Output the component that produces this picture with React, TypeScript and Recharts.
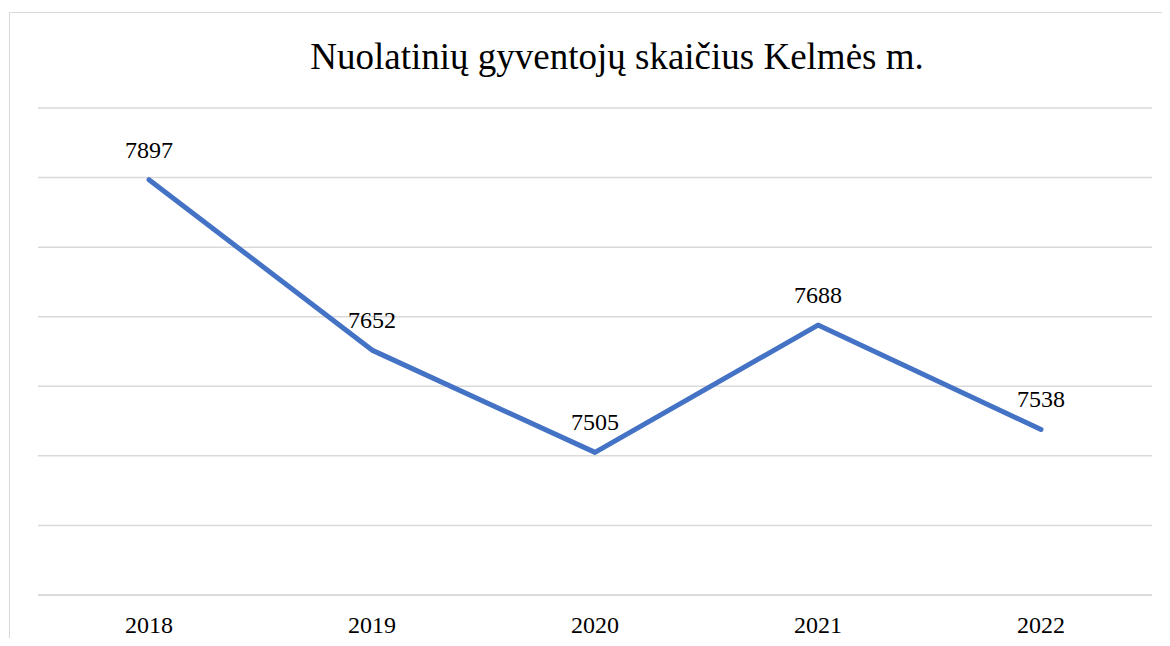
import { LineChart, Line, XAxis, YAxis, CartesianGrid, LabelList } from 'recharts';

const years = ['2018', '2019', '2020', '2021', '2022'];
const residents = [7897, 7652, 7505, 7688, 7538];
const gridTicks = [7300, 7400, 7500, 7600, 7700, 7800, 7900, 8000];

const data = years.map((year, i) => ({ year, value: residents[i] }));

const FONT = '"Liberation Serif", Tinos, serif';

export default function App() {
  return (
    <div style={{ position: 'relative', width: 1170, height: 646, margin: -8, background: '#fff', overflow: 'hidden' }}>
      {/* chart frame, runs off the right and bottom edges */}
      <div
        style={{
          position: 'absolute',
          left: 9,
          top: 12,
          width: 1200,
          height: 700,
          border: '1.5px solid #d9d9d9',
          boxSizing: 'border-box',
        }}
      />
      <div
        style={{
          position: 'absolute',
          left: 0,
          top: 37,
          width: 1234,
          textAlign: 'center',
          fontFamily: FONT,
          fontSize: 37,
          lineHeight: 1.107,
          color: '#000',
        }}
      >
        Nuolatinių gyventojų skaičius Kelmės m.
      </div>
      <div style={{ position: 'absolute', left: 0, top: 0 }}>
        <LineChart width={1170} height={646} data={data} margin={{ top: 108, right: 18, bottom: 0, left: 38 }}>
          <CartesianGrid vertical={false} stroke="#d9d9d9" strokeWidth={1.5} />
          <XAxis
            dataKey="year"
            height={51}
            padding={{ left: 111, right: 111 }}
            axisLine={{ stroke: '#d9d9d9', strokeWidth: 1.5 }}
            tickLine={false}
            tickSize={0}
            tickMargin={21}
            tick={{ fill: '#000', fontSize: 24, fontFamily: FONT }}
          />
          <YAxis hide domain={[7300, 8000]} ticks={gridTicks} />
          <Line
            type="linear"
            dataKey="value"
            stroke="#4472C4"
            strokeWidth={5}
            strokeLinecap="round"
            strokeLinejoin="round"
            dot={false}
            isAnimationActive={false}
          >
            <LabelList dataKey="value" position="top" offset={22} fill="#000" fontSize={24} fontFamily={FONT} />
          </Line>
        </LineChart>
      </div>
    </div>
  );
}
